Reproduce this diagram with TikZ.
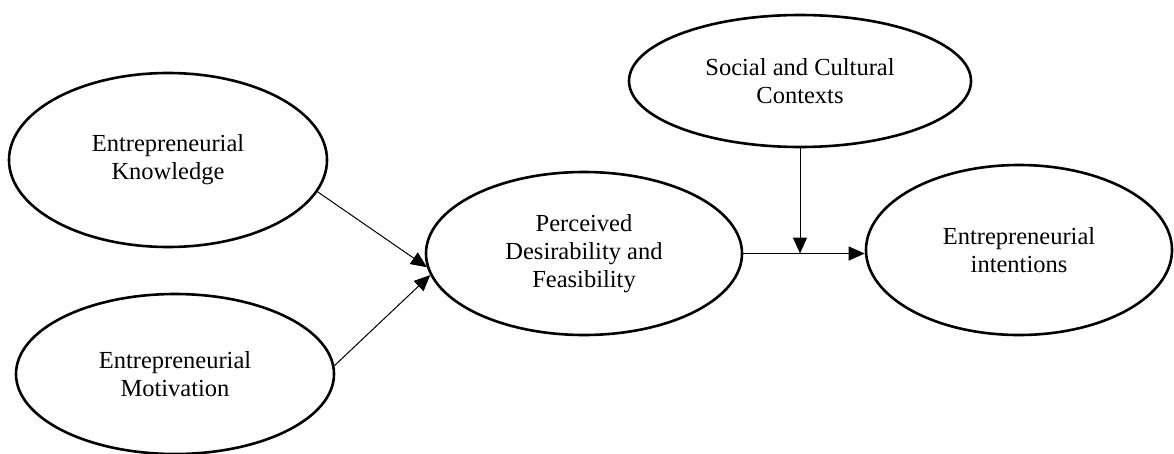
\documentclass[tikz,border=0pt]{standalone}
\usepackage{fontspec}
\setmainfont{Liberation Serif}
\usetikzlibrary{shapes.geometric,arrows.meta}
\tikzset{
  oval/.style={draw=black, line width=2.6pt, ellipse, inner sep=0pt, align=center,
    font=\fontsize{24.5}{28}\selectfont},
  arr/.style={draw=black, line width=1pt, -{Triangle[length=16pt,width=14pt]}}
}
\begin{document}
\begin{tikzpicture}[x=1pt,y=-1pt]
\useasboundingbox (0,0) rectangle (1174,453);
\node[oval, minimum width=318pt, minimum height=174pt] (K) at (168,160) {Entrepreneurial\\Knowledge};
\node[oval, minimum width=318pt, minimum height=160pt] (M) at (175,374) {Entrepreneurial\\Motivation};
\node[oval, minimum width=316pt, minimum height=163pt] (P) at (584,253.5) {Perceived\\Desirability and\\Feasibility};
\node[oval, minimum width=342pt, minimum height=132pt] (S) at (800,81) {Social and Cultural\\Contexts};
\node[oval, minimum width=306pt, minimum height=170pt] (I) at (1019,250) {Entrepreneurial\\intentions};
\coordinate (J) at (S.south |- P.east);
\draw[arr] (K.-12) -- (P.185.5);
\draw[arr] (M.3) -- (P.188.5);
\draw[arr] (P.east) -- (I.west |- P.east);
\draw[arr] (S.south) -- (J);
\end{tikzpicture}
\end{document}
